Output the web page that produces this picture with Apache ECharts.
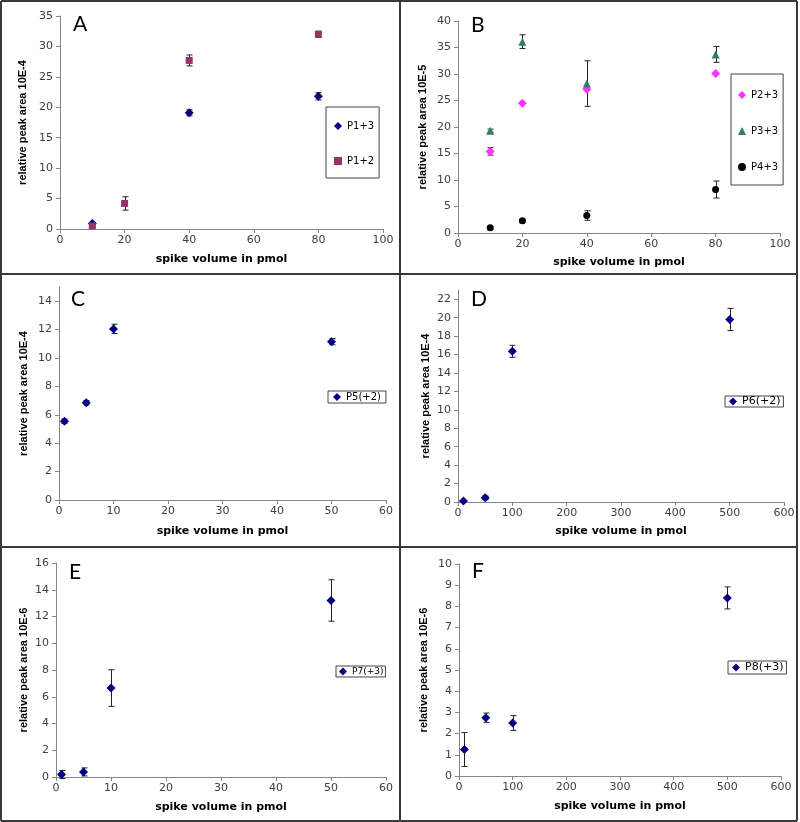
<!DOCTYPE html>
<html>
<head>
<meta charset="utf-8">
<script src="https://cdn.jsdelivr.net/npm/echarts@6/dist/echarts.min.js"></script>
<style>
  html, body { margin: 0; padding: 0; background: #fff; }
  #chart { width: 800px; height: 822px; }
</style>
</head>
<body>
<div id="chart"></div>
<script>
// ---- data ----
// A
const p13X = [10, 40, 80];
const p13Y = [0.9, 19.1, 21.8];
const p13Err = [0.2, 0.5, 0.6];
const p12X = [10, 20, 40, 80];
const p12Y = [0.5, 4.2, 27.7, 32.0];
const p12Err = [0.3, 1.1, 0.9, 0.5];
// B
const volB = [10, 20, 40, 80];
const p23Y = [15.4, 24.5, 27.1, 30.1];
const p23Err = [0.7, 0, 0, 0];
const p33Y = [19.3, 36.1, 28.2, 33.7];
const p33Err = [0.3, 1.3, 4.3, 1.5];
const p43Y = [1.0, 2.3, 3.3, 8.2];
const p43Err = [0.2, 0.3, 0.9, 1.6];
// C
const volC = [1, 5, 10, 50];
const p5Y = [5.55, 6.85, 12.05, 11.15];
const p5Err = [0.15, 0.15, 0.33, 0.22];
// D
const volD = [10, 50, 100, 500];
const p6Y = [0.1, 0.45, 16.35, 19.8];
const p6Err = [0.05, 0.2, 0.65, 1.2];
// E
const volE = [1, 5, 10, 50];
const p7Y = [0.18, 0.38, 6.65, 13.2];
const p7Err = [0.3, 0.3, 1.37, 1.55];
// F
const volF = [10, 50, 100, 500];
const p8Y = [1.25, 2.75, 2.5, 8.4];
const p8Err = [0.8, 0.22, 0.35, 0.52];

// y tick labels for the panels whose axis runs past the last label
const yTicksC = [0, 2, 4, 6, 8, 10, 12, 14];
const yTicksD = [0, 2, 4, 6, 8, 10, 12, 14, 16, 18, 20, 22];

const NAVY = '#000080';

function pts(xs, ys) { return xs.map((x, i) => [x, ys[i]]); }

function errorBars(gi, xs, ys, es) {
  return {
    type: 'custom', xAxisIndex: gi, yAxisIndex: gi, z: 1, silent: true,
    data: xs.map((x, i) => [x, ys[i], es[i]]),
    renderItem: function (params, api) {
      const e = api.value(2);
      if (!e) return null;
      const t = api.coord([api.value(0), api.value(1) + e]);
      const b = api.coord([api.value(0), api.value(1) - e]);
      const x = Math.round(t[0]) + 0.5;
      const st = { stroke: '#222', lineWidth: 1 };
      return {
        type: 'group', children: [
          { type: 'line', shape: { x1: x, y1: t[1], x2: x, y2: b[1] }, style: st },
          { type: 'line', shape: { x1: x - 3, y1: t[1], x2: x + 3, y2: t[1] }, style: st },
          { type: 'line', shape: { x1: x - 3, y1: b[1], x2: x + 3, y2: b[1] }, style: st }
        ]
      };
    }
  };
}

function scatter(gi, name, xs, ys, symbol, size, color) {
  return {
    type: 'scatter', name: name, xAxisIndex: gi, yAxisIndex: gi, z: 3,
    symbol: symbol, symbolSize: size, symbolKeepAspect: true,
    itemStyle: { color: color, opacity: 1 },
    data: pts(xs, ys)
  };
}

const panels = [
  { grid: { left: 60, top: 16, width: 323, height: 213 }, xMax: 100, xInt: 20, yMax: 35, yInt: 5,
    yName: 'relative peak area 10E-4', xGap: 25, yGap: 32, letter: 'A', lx: 73, ly: 27,
    legend: { left: 326, top: 107, padding: [14, 5, 12, 8], itemGap: 25, itemHeight: 8, fontSize: 10, data: ['P1+3', 'P1+2'] } },
  { grid: { left: 458, top: 21, width: 322, height: 212 }, xMax: 100, xInt: 20, yMax: 40, yInt: 5,
    yName: 'relative peak area 10E-5', xGap: 24, yGap: 30, letter: 'B', lx: 471, ly: 28,
    legend: { left: 731, top: 74, padding: [16, 5, 13, 7], itemGap: 26, itemHeight: 8, fontSize: 10, data: ['P2+3', 'P3+3', 'P4+3'] } },
  { grid: { left: 59, top: 287, width: 327, height: 213 }, xMax: 60, xInt: 10, yMax: 15, yInt: 1, yTicks: yTicksC,
    yName: 'relative peak area 10E-4', xGap: 26, yGap: 30, letter: 'C', lx: 71, ly: 302,
    legend: { left: 328, top: 391, padding: [1, 5, 1, 5], itemGap: 0, itemHeight: 8, fontSize: 10, data: ['P5(+2)'] } },
  { grid: { left: 458, top: 290, width: 326, height: 212 }, xMax: 600, xInt: 100, yMax: 23, yInt: 1, yTicks: yTicksD,
    yName: 'relative peak area 10E-4', xGap: 24, yGap: 27, letter: 'D', lx: 471, ly: 302,
    legend: { left: 725, top: 396, padding: [0, 3, 0, 4], itemGap: 0, itemHeight: 8, fontSize: 11, data: ['P6(+2)'] } },
  { grid: { left: 56, top: 563, width: 330, height: 214 }, xMax: 60, xInt: 10, yMax: 16, yInt: 2,
    yName: 'relative peak area 10E-6', xGap: 25, yGap: 27, letter: 'E', lx: 69, ly: 575,
    legend: { left: 336, top: 666, padding: [1, 2, 1, 3], itemGap: 0, itemHeight: 8, fontSize: 9, data: ['P7(+3)'] } },
  { grid: { left: 459, top: 564, width: 322, height: 212 }, xMax: 600, xInt: 100, yMax: 10, yInt: 1,
    yName: 'relative peak area 10E-6', xGap: 25, yGap: 30, letter: 'F', lx: 472, ly: 574,
    legend: { left: 728, top: 661, padding: [1, 3, 1, 4], itemGap: 0, itemHeight: 8, fontSize: 11, data: ['P8(+3)'] } }
];

const axisLine = { show: true, onZero: false, lineStyle: { color: '#868686', width: 1 } };
const tickFont = { fontFamily: 'DejaVu Sans', fontSize: 11, color: '#404040' };

const grid = [], xAxis = [], yAxis = [], legend = [];
const graphic = [];

panels.forEach(function (p, i) {
  grid.push(Object.assign({ containLabel: false }, p.grid));
  xAxis.push({
    type: 'value', gridIndex: i, min: 0, max: p.xMax, interval: p.xInt,
    axisLine: axisLine,
    axisTick: { show: true, length: 4, lineStyle: { color: '#868686' } },
    splitLine: { show: false },
    axisLabel: Object.assign({ margin: 6 }, tickFont),
    name: 'spike volume in pmol', nameLocation: 'middle', nameGap: p.xGap,
    nameTextStyle: { fontFamily: 'DejaVu Sans', fontWeight: 'bold', fontSize: 11, color: '#000' }
  });
  const y = {
    type: 'value', gridIndex: i, min: 0, max: p.yMax, interval: p.yInt,
    axisLine: axisLine,
    axisTick: { show: true, length: 4, lineStyle: { color: '#868686' } },
    splitLine: { show: false },
    axisLabel: Object.assign({ margin: 7 }, tickFont),
    name: p.yName, nameLocation: 'middle', nameGap: p.yGap,
    nameTextStyle: { fontFamily: 'Liberation Sans', fontWeight: 'bold', fontSize: 11, color: '#000' }
  };
  if (p.yTicks) {
    y.axisLabel.customValues = p.yTicks;
    y.axisTick.customValues = p.yTicks;
  }
  yAxis.push(y);
  legend.push({
    orient: 'vertical', left: p.legend.left, top: p.legend.top,
    padding: p.legend.padding, itemGap: p.legend.itemGap,
    itemWidth: 8, itemHeight: p.legend.itemHeight,
    borderColor: '#444', borderWidth: 1, borderRadius: 0, backgroundColor: '#fff',
    selectedMode: false,
    textStyle: { fontFamily: 'DejaVu Sans', fontSize: p.legend.fontSize, color: '#000' },
    data: p.legend.data
  });
  graphic.push({
    type: 'text', left: p.lx, top: p.ly - 13, z: 10,
    style: { text: p.letter, font: '21px Lato', fill: '#000' }
  });
});

// panel frames
const frameStyle = { stroke: '#3a3a3a', lineWidth: 2 };
[
  [1, 1, 797, 1], [1, 821, 797, 821], [1, 1, 1, 821], [797, 1, 797, 821],
  [400, 1, 400, 821], [1, 274, 797, 274], [1, 547, 797, 547]
].forEach(function (l) {
  graphic.push({ type: 'line', z: 20, shape: { x1: l[0], y1: l[1], x2: l[2], y2: l[3] }, style: frameStyle });
});

const series = [
  errorBars(0, p13X, p13Y, p13Err),
  errorBars(0, p12X, p12Y, p12Err),
  scatter(0, 'P1+3', p13X, p13Y, 'diamond', 9, NAVY),
  scatter(0, 'P1+2', p12X, p12Y, 'rect', 7, '#993366'),

  errorBars(1, volB, p23Y, p23Err),
  errorBars(1, volB, p33Y, p33Err),
  errorBars(1, volB, p43Y, p43Err),
  scatter(1, 'P2+3', volB, p23Y, 'diamond', 9, '#ff33ff'),
  scatter(1, 'P3+3', volB, p33Y, 'triangle', 8, '#2f7f5f'),
  scatter(1, 'P4+3', volB, p43Y, 'circle', 7, '#000'),

  errorBars(2, volC, p5Y, p5Err),
  scatter(2, 'P5(+2)', volC, p5Y, 'diamond', 9, NAVY),

  errorBars(3, volD, p6Y, p6Err),
  scatter(3, 'P6(+2)', volD, p6Y, 'diamond', 9, NAVY),

  errorBars(4, volE, p7Y, p7Err),
  scatter(4, 'P7(+3)', volE, p7Y, 'diamond', 9, NAVY),

  errorBars(5, volF, p8Y, p8Err),
  scatter(5, 'P8(+3)', volF, p8Y, 'diamond', 9, NAVY)
];

const chart = echarts.init(document.getElementById('chart'), null, { renderer: 'canvas' });
chart.setOption({
  animation: false,
  backgroundColor: '#fff',
  grid: grid,
  xAxis: xAxis,
  yAxis: yAxis,
  legend: legend,
  graphic: graphic,
  series: series
});
</script>
</body>
</html>
